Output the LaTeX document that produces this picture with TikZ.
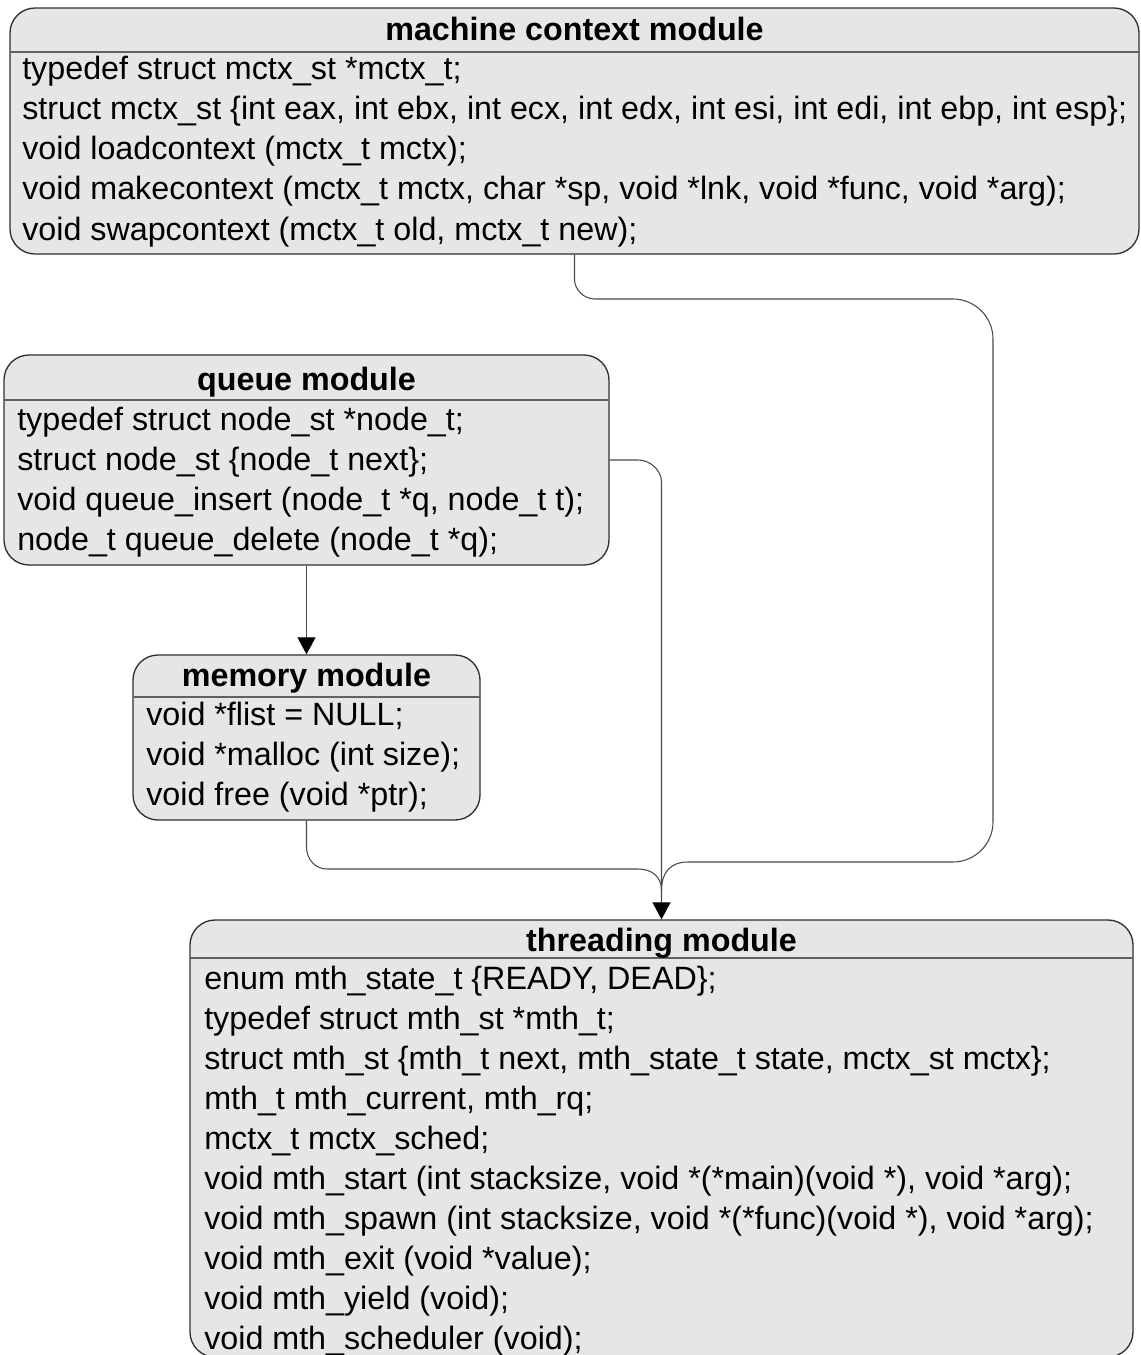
\documentclass[tikz,border=0pt]{standalone}
\usepackage{fontspec}
\setmainfont{Liberation Sans}
\usetikzlibrary{arrows.meta,fit}
\definecolor{boxfill}{HTML}{E6E6E6}
\definecolor{edge}{HTML}{303030}
\definecolor{rulegray}{HTML}{606060}
\definecolor{wiregray}{HTML}{4A4A4A}

\begin{document}
\begin{tikzpicture}[x=0.75pt,y=-0.75pt,
  modbox/.style={draw=edge, line width=1pt, fill=boxfill, rounded corners=18.75pt, inner sep=0pt},
  title/.style={anchor=base, font=\fontsize{24.2pt}{30pt}\selectfont\bfseries, inner sep=0pt},
  code/.style={anchor=base west, font=\fontsize{24.2pt}{30pt}\selectfont, inner sep=0pt},
  hdr/.style={draw=rulegray, line width=0.9pt},
  wire/.style={draw=wiregray, line width=0.8pt},
  tip/.style={-{Triangle[width=13.5pt,length=12.75pt,color=black]}},
]
\useasboundingbox (0,0) rectangle (1141,1355);

% module boxes
\node[modbox, fit={(10,8) (1139,254)}] (mctx) {};
\node[modbox, fit={(4,355) (609,565)}] (queue) {};
\node[modbox, fit={(133,655) (480,820)}] (memory) {};
\node[modbox, fit={(190,920) (1133,1357)}] (thread) {};

% header separators
\draw[hdr] (10,52) -- (1139,52);
\draw[hdr] (4,400) -- (609,400);
\draw[hdr] (133,697) -- (480,697);
\draw[hdr] (190,958) -- (1133,958);

% machine context module
\node[title] (mctx-t) at (574.5,41) {machine context module};
\node[code] (mctx-1) at (22,80) {typedef struct mctx\_st *mctx\_t;};
\node[code] (mctx-2) at (22,120) {struct mctx\_st \{int eax, int ebx, int ecx, int edx, int esi, int edi, int ebp, int esp\};};
\node[code] (mctx-3) at (22,160) {void loadcontext (mctx\_t mctx);};
\node[code] (mctx-4) at (22,200) {void makecontext (mctx\_t mctx, char *sp, void *lnk, void *func, void *arg);};
\node[code] (mctx-5) at (22,240) {void swapcontext (mctx\_t old, mctx\_t new);};

% queue module
\node[title] (queue-t) at (306.5,390) {queue module};
\node[code] (queue-1) at (17,430) {typedef struct node\_st *node\_t;};
\node[code] (queue-2) at (17,470) {struct node\_st \{node\_t next\};};
\node[code] (queue-3) at (17,510) {void queue\_insert (node\_t *q, node\_t t);};
\node[code] (queue-4) at (17,550) {node\_t queue\_delete (node\_t *q);};

% memory module
\node[title] (memory-t) at (306.5,686) {memory module};
\node[code] (memory-1) at (146,725) {void *flist = NULL;};
\node[code] (memory-2) at (146,765) {void *malloc (int size);};
\node[code] (memory-3) at (146,805) {void free (void *ptr);};

% threading module
\node[title] (thread-t) at (661.5,951) {threading module};
\node[code] (thread-1) at (204,989) {enum mth\_state\_t \{READY, DEAD\};};
\node[code] (thread-2) at (204,1029) {typedef struct mth\_st *mth\_t;};
\node[code] (thread-3) at (204,1069) {struct mth\_st \{mth\_t next, mth\_state\_t state, mctx\_st mctx\};};
\node[code] (thread-4) at (204,1109) {mth\_t mth\_current, mth\_rq;};
\node[code] (thread-5) at (204,1149) {mctx\_t mctx\_sched;};
\node[code] (thread-6) at (204,1189) {void mth\_start (int stacksize, void *(*main)(void *), void *arg);};
\node[code] (thread-7) at (204,1229) {void mth\_spawn (int stacksize, void *(*func)(void *), void *arg);};
\node[code] (thread-8) at (204,1269) {void mth\_exit (void *value);};
\node[code] (thread-9) at (204,1309) {void mth\_yield (void);};
\node[code] (thread-10) at (204,1349) {void mth\_scheduler (void);};

% connectors
\coordinate (join) at (661.5,890);

\draw[wire, tip] (queue.south) -- (memory.north);

\draw[wire] (mctx.south) -- (574.5,279)
  .. controls (574.5,290) and (584,299) .. (595,299)
  -- (953,299)
  .. controls (975,299) and (993,317) .. (993,339)
  -- (993,822)
  .. controls (993,844) and (975,862) .. (953,862)
  -- (688,862)
  .. controls (671,862) and (661.5,872) .. (join);

\draw[wire] (memory.south) -- (306.5,847)
  .. controls (306.5,859) and (315,869) .. (327,869)
  -- (638,869)
  .. controls (652,869) and (661.5,877) .. (join);

\draw[wire, tip] (queue.east) -- (638,460)
  .. controls (650,460) and (661.5,470) .. (661.5,482)
  -- (thread.north);
\end{tikzpicture}
\end{document}
